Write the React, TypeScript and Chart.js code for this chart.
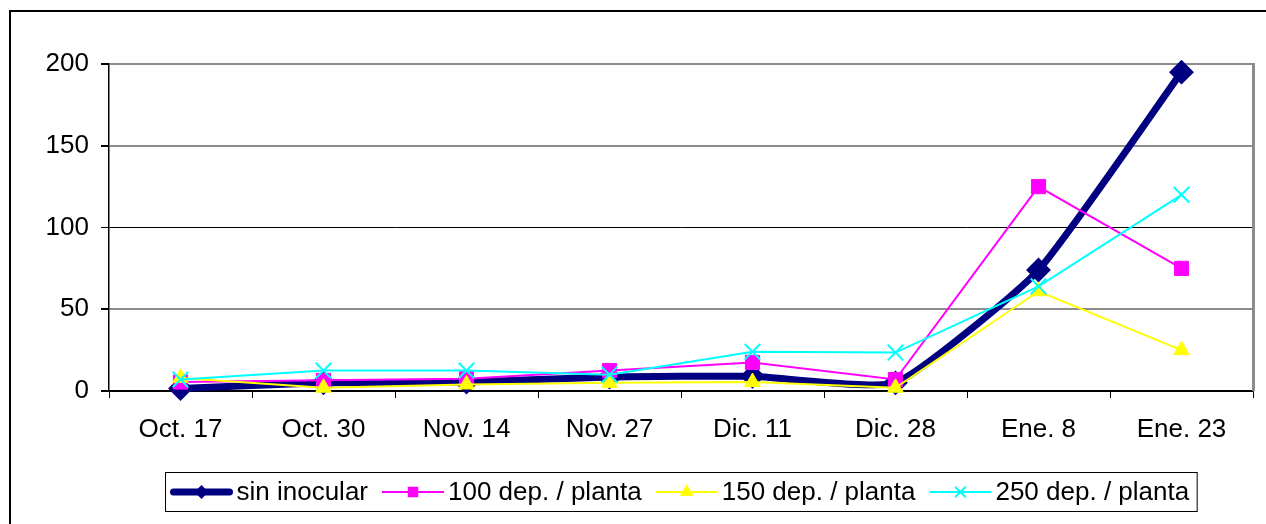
import React, { useEffect, useRef } from "react";
import { Chart, registerables } from "chart.js";

Chart.register(...registerables);

const categories = ["Oct. 17", "Oct. 30", "Nov. 14", "Nov. 27", "Dic. 11", "Dic. 28", "Ene. 8", "Ene. 23"];
const sinInocular = [1.5, 5, 5.5, 8.5, 9, 5, 74, 195];
const dep100 = [5.5, 6.5, 7.5, 12.5, 17.5, 7, 125, 75];
const dep150 = [8, 2, 4, 5, 5.5, 2, 61, 25];
const dep250 = [7, 12.5, 12.5, 10, 24, 23.5, 64, 120];
const seriesNames = ["sin inocular", "100 dep. / planta", "150 dep. / planta", "250 dep. / planta"];
const yTicks = [0, 50, 100, 150, 200];

const FONT = '"Liberation Sans", Arial, sans-serif';
const FONT_SIZE = 26;

const frameAndLegend = {
  id: "frameAndLegend",
  beforeDatasetsDraw(chart: any) {
    const { ctx, chartArea } = chart;
    ctx.save();
    ctx.strokeStyle = "#8c8c8c";
    ctx.lineWidth = 3;
    ctx.beginPath();
    ctx.moveTo(chartArea.right + 0.5, chartArea.top - 1);
    ctx.lineTo(chartArea.right + 0.5, chartArea.bottom);
    ctx.stroke();
    ctx.restore();
  },
  afterDraw(chart: any) {
    const { ctx, chartArea } = chart;
    ctx.save();
    // outer frame
    ctx.strokeStyle = "#000";
    ctx.lineWidth = 2;
    ctx.beginPath();
    ctx.moveTo(10, 600);
    ctx.lineTo(10, 11);
    ctx.lineTo(1300, 11);
    ctx.stroke();

    // legend
    ctx.font = FONT_SIZE + "px " + FONT;
    const sampleW = 62;
    const gapText = 4;
    const gapItem = 14;
    const padL = 5;
    const padR = 8;
    const ds = chart.data.datasets;
    const widths = ds.map((d: any) => sampleW + gapText + ctx.measureText(d.label).width);
    const total = padL + padR + widths.reduce((a: number, b: number) => a + b, 0) + gapItem * (ds.length - 1);
    const cx = (chartArea.left + chartArea.right) / 2;
    const left = Math.round(cx - total / 2) + 0.5;
    const top = 472.5;
    const h = 39;
    ctx.lineWidth = 1;
    ctx.strokeStyle = "#000";
    ctx.fillStyle = "#fff";
    ctx.fillRect(left, top, total, h);
    ctx.strokeRect(left, top, total, h);
    const cy = top + h / 2;
    let x = left + padL;
    ds.forEach((d: any, i: number) => {
      ctx.strokeStyle = d.borderColor;
      ctx.lineWidth = i === 0 ? 7 : 2;
      ctx.lineCap = i === 0 ? "round" : "butt";
      ctx.beginPath();
      ctx.moveTo(x + (i === 0 ? 3 : 0), cy);
      ctx.lineTo(x + sampleW - (i === 0 ? 3 : 0), cy);
      ctx.stroke();
      ctx.lineCap = "butt";
      const mx = x + sampleW / 2;
      ctx.fillStyle = d.pointBackgroundColor;
      ctx.strokeStyle = d.pointBorderColor;
      ctx.lineWidth = 2;
      const r = i === 0 ? 7 : i === 1 ? 7 : i === 2 ? 8 : 7;
      ctx.beginPath();
      if (d.pointStyle === "rectRot") {
        ctx.moveTo(mx, cy - r);
        ctx.lineTo(mx + r, cy);
        ctx.lineTo(mx, cy + r);
        ctx.lineTo(mx - r, cy);
        ctx.closePath();
        ctx.fill();
      } else if (d.pointStyle === "rect") {
        const s = r * 0.75;
        ctx.rect(mx - s, cy - s, 2 * s, 2 * s);
        ctx.fill();
      } else if (d.pointStyle === "triangle") {
        ctx.moveTo(mx, cy - r);
        ctx.lineTo(mx + r * 0.866, cy + r * 0.5);
        ctx.lineTo(mx - r * 0.866, cy + r * 0.5);
        ctx.closePath();
        ctx.fill();
      } else {
        const o = r * 0.75;
        ctx.moveTo(mx - o, cy - o);
        ctx.lineTo(mx + o, cy + o);
        ctx.moveTo(mx + o, cy - o);
        ctx.lineTo(mx - o, cy + o);
        ctx.stroke();
      }
      ctx.fillStyle = "#000";
      ctx.textBaseline = "middle";
      ctx.textAlign = "left";
      ctx.fillText(d.label, x + sampleW + gapText, cy + 1);
      x += widths[i] + gapItem;
    });
    ctx.restore();
  },
};

export default function App() {
  const canvasRef = useRef<HTMLCanvasElement | null>(null);

  useEffect(() => {
    const canvas = canvasRef.current;
    if (!canvas) return;
    const chart = new Chart(canvas, {
      type: "line",
      data: {
        labels: categories,
        datasets: [
          {
            label: seriesNames[0],
            data: sinInocular,
            borderColor: "#000080",
            backgroundColor: "#000080",
            pointBackgroundColor: "#000080",
            pointBorderColor: "#000080",
            borderWidth: 7,
            pointStyle: "rectRot",
            pointRadius: 11,
            pointBorderWidth: 2,
            tension: 0.15,
            order: 4,
            clip: false,
          },
          {
            label: seriesNames[1],
            data: dep100,
            borderColor: "#ff00ff",
            backgroundColor: "#ff00ff",
            pointBackgroundColor: "#ff00ff",
            pointBorderColor: "#ff00ff",
            borderWidth: 2,
            pointStyle: "rect",
            pointRadius: 10,
            pointBorderWidth: 1,
            tension: 0,
            order: 3,
            clip: false,
          },
          {
            label: seriesNames[2],
            data: dep150,
            borderColor: "#ffff00",
            backgroundColor: "#ffff00",
            pointBackgroundColor: "#ffff00",
            pointBorderColor: "#ffff00",
            borderWidth: 2,
            pointStyle: "triangle",
            pointRadius: 9,
            pointBorderWidth: 1,
            tension: 0,
            order: 2,
            clip: false,
          },
          {
            label: seriesNames[3],
            data: dep250,
            borderColor: "#00ffff",
            backgroundColor: "#00ffff",
            pointBackgroundColor: "#00ffff",
            pointBorderColor: "#00ffff",
            borderWidth: 2,
            pointStyle: "crossRot",
            pointRadius: 11,
            pointBorderWidth: 2,
            tension: 0,
            order: 1,
            clip: false,
          },
        ] as any,
      },
      options: {
        responsive: false,
        animation: false,
        layout: { padding: { left: 0, right: 11, top: 64, bottom: 0 } },
        plugins: {
          legend: { display: false },
          tooltip: { enabled: false },
        },
        scales: {
          x: {
            type: "category",
            offset: true,
            grid: {
              display: true,
              drawOnChartArea: false,
              drawTicks: true,
              tickLength: 7,
              tickColor: "#000",
              offset: true,
            },
            border: { display: true, color: "#000", width: 1.5 },
            ticks: {
              color: "#000",
              font: { family: FONT, size: FONT_SIZE },
              padding: 16,
              maxRotation: 0,
              autoSkip: false,
            },
            afterFit(scale: any) {
              scale.height = 133;
            },
          },
          y: {
            min: 0,
            max: 200,
            afterBuildTicks(scale: any) {
              scale.ticks = yTicks.map((v) => ({ value: v }));
            },
            grid: {
              drawTicks: true,
              tickLength: 8,
              tickColor: "#000",
              color: (c: any) => (c.tick && c.tick.value === 100 ? "#000" : c.tick && c.tick.value === 0 ? "#000" : "#8c8c8c"),
              lineWidth: (c: any) => (c.tick && c.tick.value === 100 ? 1 : 2),
            },
            border: { display: true, color: "#000", width: 1.5 },
            ticks: {
              color: "#000",
              font: { family: FONT, size: FONT_SIZE },
              padding: 12,
            },
            afterFit(scale: any) {
              scale.width = 109;
            },
          },
        },
      },
      plugins: [frameAndLegend],
    });
    return () => chart.destroy();
  }, []);

  return (
    <div style={{ position: "fixed", left: 0, top: 0, width: 1266, height: 524, background: "#fff" }}>
      <canvas ref={canvasRef} width={1266} height={524} style={{ display: "block", width: 1266, height: 524 }} />
    </div>
  );
}
